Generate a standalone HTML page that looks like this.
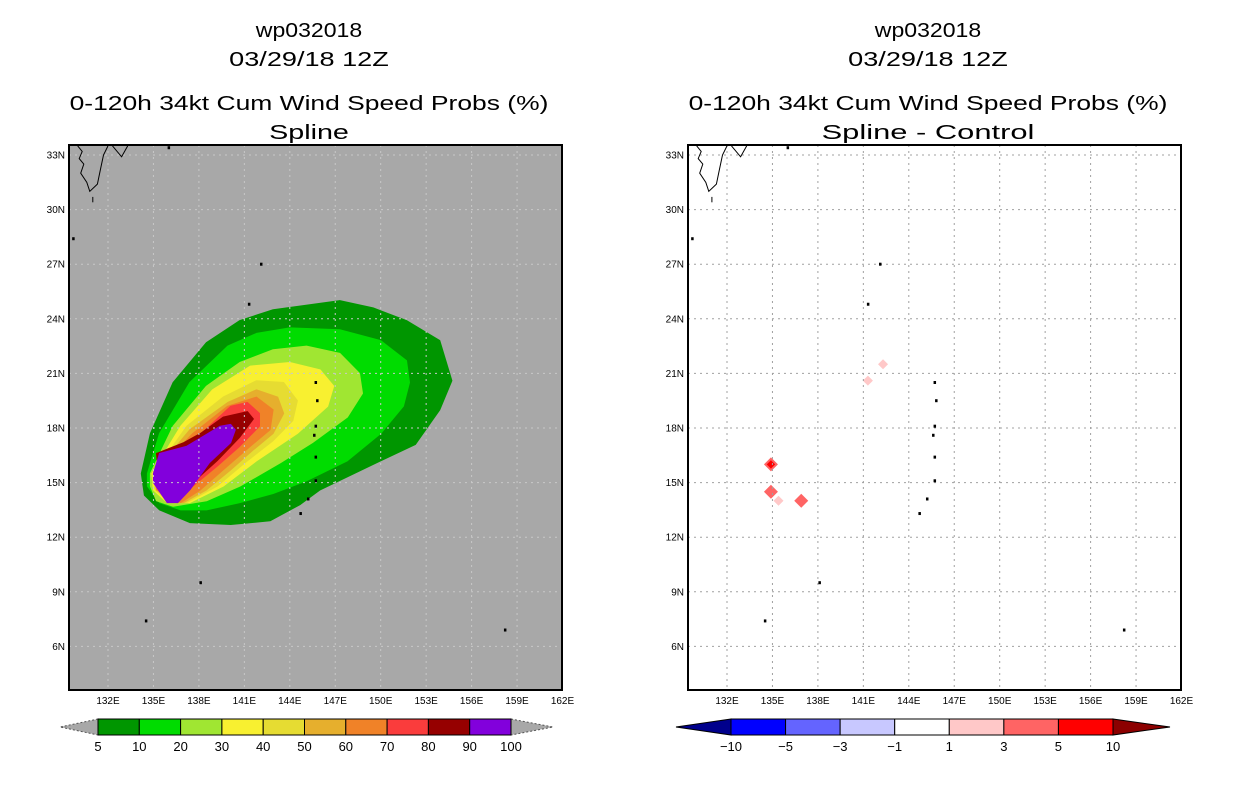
<!DOCTYPE html>
<html><head><meta charset="utf-8"><style>
html,body{margin:0;padding:0;background:#fff;}
svg{display:block;font-family:"Liberation Sans",sans-serif;}
</style></head><body>
<svg id="chart" width="1236" height="800" viewBox="0 0 1236 800" xmlns="http://www.w3.org/2000/svg"></svg>
<script>
// ---- data ----
const latTicks = [33,30,27,24,21,18,15,12,9,6];
const lonTicks = [132,135,138,141,144,147,150,153,156,159,162];
const probLevels = [5,10,20,30,40,50,60,70,80,90,100];
const probColors = ['#009600','#00dc00','#a0e632','#f8f030','#e6dc32','#e6af2d','#f08228','#fa3c3c','#960000','#8200dc'];
const diffLevels = [-10,-5,-3,-1,1,3,5,10];
const diffColors = ['#0000ff','#6464ff','#c8c8ff','#ffffff','#ffc8c8','#ff6464','#ff0000'];
const c5  = [[134.2,15.5],[134.8,17.7],[136.3,20.5],[138.5,22.7],[140.7,23.9],[142.9,24.5],[147.3,25.0],[149.5,24.6],[151.7,23.9],[153.9,22.8],[154.7,20.6],[153.9,19.0],[152.3,17.1],[150.0,16.2],[146.0,14.6],[144.7,13.8],[142.7,12.9],[140.1,12.7],[137.4,12.8],[135.4,13.5],[134.4,14.3]];
const c10 = [[134.6,15.5],[135.4,17.7],[137.4,20.5],[139.9,22.5],[141.8,23.2],[144.0,23.5],[147.3,23.4],[150.0,22.8],[151.7,21.7],[151.9,20.5],[151.5,19.2],[150.0,17.7],[147.8,16.2],[145.1,15.1],[142.9,14.4],[140.7,13.9],[138.5,13.5],[136.8,13.5],[135.4,13.9],[134.6,14.8]];
const c20 = [[134.8,15.5],[136.3,18.1],[138.5,20.3],[140.7,21.6],[142.9,22.3],[145.1,22.5],[147.3,22.1],[148.6,21.0],[148.8,19.9],[147.8,18.6],[145.5,17.2],[143.4,16.1],[140.7,14.8],[138.5,14.0],[136.3,13.7],[135.2,14.0],[134.8,14.8]];
const c30 = [[134.9,15.5],[136.8,18.1],[138.9,20.1],[141.4,21.4],[144.0,21.6],[146.0,21.2],[146.9,20.3],[146.5,19.2],[144.5,17.7],[141.8,16.2],[139.6,14.8],[137.4,13.9],[135.9,13.9],[135.0,14.6]];
const c40 = [[135.0,15.5],[137.2,18.1],[139.6,19.7],[141.8,20.6],[143.6,20.5],[144.5,19.5],[144.2,18.4],[142.9,17.3],[141.2,16.2],[139.2,14.8],[137.2,13.9],[136.1,13.9],[135.1,14.6]];
const c50 = [[135.0,15.5],[137.4,17.9],[139.9,19.4],[141.8,20.1],[143.2,19.7],[143.6,18.8],[142.9,17.7],[141.6,16.8],[140.1,15.7],[138.5,14.6],[137.0,13.9],[136.2,13.9],[135.2,14.6]];
const c60 = [[135.1,15.5],[137.6,17.7],[139.9,19.2],[141.8,19.7],[142.9,19.0],[142.7,17.9],[141.4,17.0],[139.6,15.7],[138.1,14.6],[136.8,13.9],[135.2,14.6]];
const c70 = [[135.1,15.7],[137.9,17.5],[140.1,19.2],[141.2,19.4],[142.0,18.8],[142.0,18.1],[140.7,17.0],[139.2,15.9],[137.6,14.8],[136.6,13.9],[135.3,14.8]];
const c80 = [[135.2,16.6],[137.0,17.2],[138.1,17.7],[139.6,18.6],[141.2,18.9],[141.6,18.5],[140.7,17.5],[139.2,16.2],[137.6,15.0],[136.6,14.0],[135.4,14.9]];
const c90 = [[135.0,15.5],[135.4,16.6],[137.2,17.0],[139.4,18.1],[140.1,18.2],[140.4,17.9],[140.1,17.2],[138.7,16.1],[137.4,14.6],[136.6,13.9],[135.9,13.9],[135.0,15.0]];
const diffLon = [134.9,134.9,135.4,136.9,141.3,142.3];
const diffLat = [16.0,14.5,14.0,14.0,20.6,21.5];
const diffVal = [7,4,2,3,1.5,1.2];
// ---- axes ----
const NS='http://www.w3.org/2000/svg';
const svg=document.getElementById('chart');
function el(tag,attrs,parent){const e=document.createElementNS(NS,tag);for(const k in attrs)e.setAttribute(k,attrs[k]);(parent||svg).appendChild(e);return e;}
const PX0=69,PY0=145,PW=493,PH=545;
function xS(off,lon){return off+108+(lon-132)*15.15;}
function yS(lat){return 155+(33-lat)*18.2;}
function colorFor(v){for(let i=diffLevels.length-2;i>=0;i--){if(v>=diffLevels[i])return diffColors[i];}return diffColors[0];}

function title(cx,lines,g){
  const ys=[37,66,110,139];
  lines.forEach((t,i)=>{const tx=el('text',{x:cx,y:ys[i],'text-anchor':'middle','font-size':'20',fill:'#000',textLength:t.length*13.3,lengthAdjust:'spacingAndGlyphs'},g);tx.textContent=t;
  
  });
}
function coast(off,g){
  const pts=[[[130.0,33.5],[130.3,33.2],[130.1,32.8],[130.4,32.5],[130.2,32.0],[130.6,31.5],[130.8,31.0],[131.3,31.4],[131.5,32.2],[131.7,33.0],[132.0,33.5]],
    [[132.3,33.5],[132.9,32.9],[133.3,33.5]],[[131.0,30.7],[131.0,30.4]]];
  pts.forEach(p=>{const d=p.map((q,i)=>(i?'L':'M')+xS(off,q[0]).toFixed(1)+','+yS(q[1]).toFixed(1)).join('');
    const c=el('path',{d:d,fill:'none',stroke:'#000','stroke-width':1},g);
    
    });
  const isl=[[129.7,28.4],[142.1,27.0],[141.3,24.8],[145.7,20.5],[145.8,19.5],[145.7,18.1],[145.6,17.6],[145.7,16.4],[145.7,15.1],[145.2,14.1],[144.7,13.3],[138.1,9.5],[134.5,7.4],[158.2,6.9],[136.0,33.4]];
  isl.forEach(p=>{const r=el('rect',{x:xS(off,p[0])-1,y:yS(p[1])-1.5,width:2.5,height:3,fill:'#000'},g);
    
    });
}
function panel(off,left){
  const g=el('g',{});
  
  
  const cx=off+309;
  title(cx,['wp032018','03/29/18 12Z','0-120h 34kt Cum Wind Speed Probs (%)',left?'Spline':'Spline - Control'],g);
  const bg=el('rect',{x:off+PX0,y:PY0,width:PW,height:PH,fill:left?'#a8a8a8':'#fff'},g);
  
  
  const clip=el('clipPath',{id:'clip'+off},g);el('rect',{x:off+PX0,y:PY0,width:PW,height:PH},clip);
  const inner=el('g',{'clip-path':'url(#clip'+off+')'},g);
  if(left){
    [c5,c10,c20,c30,c40,c50,c60,c70,c80,c90].forEach((c,i)=>{
      const d=c.map((q,j)=>(j?'L':'M')+xS(off,q[0]).toFixed(1)+','+yS(q[1]).toFixed(1)).join('')+'Z';
      const p=el('path',{d:d,fill:probColors[i],stroke:probColors[i],'stroke-width':1,'stroke-linejoin':'round'},inner);
      
      
    });
  } else {
    diffLon.forEach((lo,i)=>{
      const x=xS(off,lo),y=yS(diffLat[i]),v=diffVal[i],r=v>2?7:5;
      const d=el('path',{d:`M${x-r},${y}L${x},${y-r}L${x+r},${y}L${x},${y+r}Z`,fill:colorFor(Math.min(v,3.5)),stroke:'none'},inner);
      
      
      if(v>=3){const r2=r*0.6;const d2=el('path',{d:`M${x-r2},${y}L${x},${y-r2}L${x+r2},${y}L${x},${y+r2}Z`,fill:colorFor(v)},inner);
        
        }
    });
  }
  latTicks.forEach(t=>{const y=yS(t);
    const l=el('line',{x1:off+PX0,x2:off+PX0+PW,y1:y,y2:y,stroke:left?'#c8c8c8':'#a0a0a0','stroke-width':1,'stroke-dasharray':'2,4'},inner);
    
    
    const tx=el('text',{x:off+65,y:y+3.5,'text-anchor':'end','font-size':'10',fill:'#000'},g);tx.textContent=t+'N';
    
    });
  lonTicks.forEach(t=>{const x=xS(off,t);
    const l=el('line',{x1:x,x2:x,y1:PY0,y2:PY0+PH,stroke:left?'#c8c8c8':'#a0a0a0','stroke-width':1,'stroke-dasharray':'2,4'},inner);
    
    
    const tx=el('text',{x:x,y:704,'text-anchor':'middle','font-size':'10',fill:'#000'},g);tx.textContent=t+'E';
    
    });
  coast(off,inner);
  const fr=el('rect',{x:off+PX0,y:PY0,width:PW,height:PH,fill:'none',stroke:'#000','stroke-width':2},g);
  
  
}
panel(0,true);panel(619,false);
// colorbars
function colorbar(x0,x1,levels,colors,lc,rc,name,dash,al,ar){
  const g=el('g',{});
  
  
  const n=colors.length,w=(x1-x0)/n,yt=719,yb=735,ym=727;
  const lt=el('path',{d:`M${x0},${yt}L${x0-al},${ym}L${x0},${yb}Z`,fill:lc,stroke:dash?'#555':'#000','stroke-width':1,'stroke-dasharray':dash?'2,2':'none'},g);
  
  
  const rt=el('path',{d:`M${x1},${yt}L${x1+ar},${ym}L${x1},${yb}Z`,fill:rc,stroke:dash?'#555':'#000','stroke-width':1,'stroke-dasharray':dash?'2,2':'none'},g);
  
  
  colors.forEach((c,i)=>{const r=el('rect',{x:x0+i*w,y:yt,width:w,height:yb-yt,fill:c,stroke:'#000','stroke-width':1},g);
    
    });
  levels.forEach((v,i)=>{const t=el('text',{x:x0+i*w,y:751,'text-anchor':'middle','font-size':'13',fill:'#000'},g);t.textContent=v<0?'\u2212'+(-v):v;
    
    });
}
colorbar(98,511,probLevels,probColors,'#a8a8a8','#a8a8a8','probability-colorbar',true,38,42);
colorbar(731,1113,diffLevels,diffColors,'#00008c','#8c0000','difference-colorbar',false,55,57);
</script>
</body></html>
